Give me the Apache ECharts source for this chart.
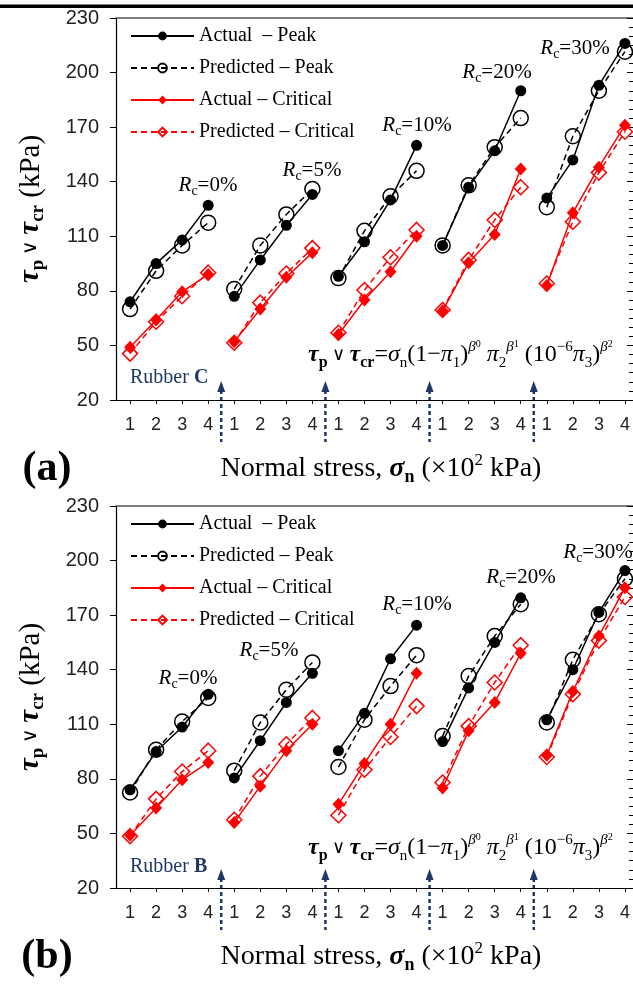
<!DOCTYPE html>
<html>
<head>
<meta charset="utf-8">
<script src="https://cdn.jsdelivr.net/npm/echarts@6/dist/echarts.min.js"></script>
<style>
  html, body { margin: 0; padding: 0; background: #fff; }
  #chart { width: 633px; height: 985px; }
</style>
</head>
<body>
<div id="chart"></div>
<script>
// Normal stress levels inside each rubber-content group (x10^2 kPa)
const stressLevels = ['1', '2', '3', '4'];
// Rubber content of each group
const rubberContents = ['0%', '5%', '10%', '20%', '30%'];
// Shear strength axis (kPa)
const yMin = 20, yMax = 230, yStep = 30;

// Rubber C — 5 groups x 4 stress levels (kPa)
const actualPeakC = [74, 95, 108, 127,  77, 97, 116, 133,  88, 107, 130, 160,  105, 137, 157, 190,  131, 152, 193, 216];
const predictedPeakC = [70, 91, 105, 117.5,  81, 105, 122, 136,  87, 113, 132, 146,  105, 138, 159, 175,  126, 165, 190, 211.5];
const actualCriticalC = [49, 64, 79.5, 89,  52, 70, 87.5, 101,  56, 75, 90.5, 110,  69, 95.5, 111, 147,  83, 123, 148, 171];
const predictedCriticalC = [45.5, 63, 77, 90,  51.5, 73.5, 89.5, 103.5,  57, 80.5, 98.5, 113.5,  69.5, 97, 119, 137,  84, 118, 145, 167.5];

// Rubber B — 5 groups x 4 stress levels (kPa)
const actualPeakB = [74, 95, 108.5, 126.5,  80.5, 101, 122, 138,  95.5, 116, 146, 164.5,  100.5, 130, 155, 179.5,  112.5, 140, 171.5, 194.5];
const predictedPeakB = [72.5, 96, 111.5, 124.5,  84.5, 111, 129, 144,  86.5, 112.5, 131, 148,  103.5, 136.5, 158.5, 176,  111, 145.5, 170.5, 190];
const actualCriticalB = [49, 64, 79.5, 89,  56, 76, 95.5, 110,  66, 88.5, 110, 138,  75, 106.5, 122, 149,  93, 128, 158.5, 185];
const predictedCriticalB = [48.5, 69, 84, 95.5,  57.5, 81.5, 99, 113.5,  60, 85, 103, 120,  78, 109, 133, 153.5,  92, 126.5, 156, 180];

const seriesNames = ['Actual  – Peak', 'Predicted – Peak', 'Actual – Critical', 'Predicted – Critical'];

const SERIF = '"Liberation Serif", "Times New Roman", serif';
const SANS = 'Arial, "Liberation Sans", sans-serif';
const NAVY = '#1f3864';
const RED = '#ff0000';

const panels = [
  { rubber: 'C', values: [actualPeakC, predictedPeakC, actualCriticalC, predictedCriticalC],
    top: 18, rcPos: [[208, 185], [312, 170], [417, 125], [497, 72], [575, 48]], formulaY: 355, rubberY: 378, letter: '(a)' },
  { rubber: 'B', values: [actualPeakB, predictedPeakB, actualCriticalB, predictedCriticalB],
    top: 506, rcPos: [[188, 678], [269, 650], [417, 604], [521, 577], [598, 552]], formulaY: 848, rubberY: 867, letter: '(b)' }
];
const plotH = 382;
const perGroup = stressLevels.length;
const nPoints = perGroup * rubberContents.length;
const positions = Array.from({ length: nPoints }, (_, i) => i + 1);

// one polyline per group: a gap point separates consecutive groups
function toPoints(values) {
  const pts = [];
  values.forEach((v, i) => {
    pts.push([i + 1, v]);
    if (i % perGroup === perGroup - 1 && i < values.length - 1) pts.push([i + 1.5, '-']);
  });
  return pts;
}

const markStyles = [
  { symbol: 'circle', symbolSize: 11, itemStyle: { color: '#000' },
    lineStyle: { color: '#000', width: 1.5, type: 'solid' } },
  { symbol: 'circle', symbolSize: 15, itemStyle: { color: 'rgba(255,255,255,0)', borderColor: '#000', borderWidth: 1.5 },
    lineStyle: { color: '#000', width: 1.5, type: [6, 4] } },
  { symbol: 'diamond', symbolSize: [12, 13], itemStyle: { color: RED },
    lineStyle: { color: RED, width: 1.5, type: 'solid' } },
  { symbol: 'diamond', symbolSize: 15, itemStyle: { color: 'rgba(255,255,255,0)', borderColor: RED, borderWidth: 1.5 },
    lineStyle: { color: RED, width: 1.5, type: [6, 4] } }
];

const grid = [], xAxis = [], yAxis = [], series = [], legend = [];
panels.forEach((p, g) => {
  grid.push({ left: 116, top: p.top, width: 517, height: plotH });
  xAxis.push({
    gridIndex: g, type: 'value', min: 0.46, max: 20.31,
    axisLine: { onZero: false, lineStyle: { color: '#000', width: 1.2 } },
    axisTick: { customValues: positions, length: 4, lineStyle: { color: '#000', width: 1 } },
    axisLabel: { customValues: positions, margin: 16, fontFamily: SANS, fontSize: 18, color: '#222',
      formatter: v => stressLevels[(Math.round(v) - 1) % perGroup] },
    splitLine: { show: false }
  });
  xAxis.push({
    gridIndex: g, type: 'value', position: 'top', min: 0.46, max: 20.31,
    axisLine: { onZero: false, lineStyle: { color: '#555', width: 1.5 } },
    axisTick: { show: false }, axisLabel: { show: false }, splitLine: { show: false }
  });
  yAxis.push({
    gridIndex: g, type: 'value', min: yMin, max: yMax, interval: yStep,
    axisLine: { show: true, onZero: false, lineStyle: { color: '#000', width: 1.2 } },
    axisTick: { show: true, length: 6, lineStyle: { color: '#000', width: 1 } },
    axisLabel: { margin: 17, fontFamily: SANS, fontSize: 20, color: '#222' },
    splitLine: { show: false }
  });
  yAxis.push({
    gridIndex: g, type: 'value', min: yMin, max: yMax, interval: yStep,
    axisLine: { show: false },
    axisTick: { show: true, inside: true, length: 6, lineStyle: { color: '#000', width: 1 } },
    minorTick: { show: true, splitNumber: 6, length: 4, lineStyle: { color: '#000', width: 1 } },
    axisLabel: { show: false }, splitLine: { show: false }
  });
  p.values.forEach((vals, k) => {
    series.push(Object.assign({
      type: 'line', name: seriesNames[k], xAxisIndex: 2 * g, yAxisIndex: 2 * g,
      data: toPoints(vals), connectNulls: false, showAllSymbol: true,
      emphasis: { disabled: true }, silent: true, z: 2 + k
    }, markStyles[k]));
  });
  legend.push({
    data: seriesNames, orient: 'vertical', left: 130, top: p.top + 8, padding: 0,
    itemWidth: 63, itemHeight: 11, itemGap: 12, selectedMode: false,
    textStyle: { fontFamily: SERIF, fontSize: 20, color: '#000' }
  });
});

const chart = echarts.init(document.getElementById('chart'), null, { renderer: 'canvas', width: 633, height: 985 });
chart.setOption({ animation: false, backgroundColor: '#fff', grid, xAxis, yAxis, series, legend });

// ---- annotations ----
const rcRich = {
  i: { fontFamily: SERIF, fontSize: 21, fontStyle: 'italic', fill: '#000', lineHeight: 26 },
  c: { fontFamily: SERIF, fontSize: 14, fill: '#000', verticalAlign: 'bottom', lineHeight: 16 },
  n: { fontFamily: SERIF, fontSize: 21, fill: '#000', lineHeight: 26 }
};
const formulaRich = {
  tb: { fontFamily: SERIF, fontSize: 24, fontStyle: 'italic', fontWeight: 'bold', fill: '#000', lineHeight: 31 },
  sb: { fontFamily: SERIF, fontSize: 16, fontWeight: 'bold', fill: '#000', verticalAlign: 'bottom', lineHeight: 19 },
  o: { fontFamily: SERIF, fontSize: 18, fill: '#000', lineHeight: 31 },
  n: { fontFamily: SERIF, fontSize: 24, fill: '#000', lineHeight: 31 },
  i: { fontFamily: SERIF, fontSize: 24, fontStyle: 'italic', fill: '#000', lineHeight: 31 },
  s: { fontFamily: SERIF, fontSize: 15, fill: '#000', verticalAlign: 'bottom', lineHeight: 18 },
  su: { fontFamily: SERIF, fontSize: 15, fontStyle: 'italic', fill: '#000', verticalAlign: 'top', lineHeight: 15 },
  ss: { fontFamily: SERIF, fontSize: 10, fill: '#000', verticalAlign: 'top', lineHeight: 26 },
  sup: { fontFamily: SERIF, fontSize: 15, fill: '#000', verticalAlign: 'top', lineHeight: 17 }
};
const formulaText = '{tb|τ}{sb|p}{o| ∨ }{tb|τ}{sb|cr}{n|=}{i|σ}{s|n}{n|(1−}{i|π}{s|1}{n|)}{su|β}{ss|0}{n| }{i|π}{s|2}{su|β}{ss|1}{n| (10}{sup|−6}{i|π}{s|3}{n|)}{su|β}{ss|2}';

const yTitleRich = {
  t: { fontFamily: SERIF, fontSize: 29, fontStyle: 'italic', fontWeight: 'bold', fill: '#000', lineHeight: 34 },
  s: { fontFamily: SERIF, fontSize: 19, fontWeight: 'bold', fill: '#000', verticalAlign: 'bottom', lineHeight: 20 },
  o: { fontFamily: SERIF, fontSize: 20, fill: '#000', lineHeight: 34 },
  u: { fontFamily: SERIF, fontSize: 29, fill: '#000', lineHeight: 34 }
};
const xTitleRich = {
  n: { fontFamily: SERIF, fontSize: 28, fill: '#000', lineHeight: 34 },
  b: { fontFamily: SERIF, fontSize: 28, fontStyle: 'italic', fontWeight: 'bold', fill: '#000', lineHeight: 34 },
  bs: { fontFamily: SERIF, fontSize: 18, fontWeight: 'bold', fill: '#000', verticalAlign: 'bottom', lineHeight: 20 },
  sup: { fontFamily: SERIF, fontSize: 17, fill: '#000', verticalAlign: 'top', lineHeight: 18 }
};

const graphic = [
  { type: 'rect', shape: { x: 0, y: 4.5, width: 633, height: 3.5 }, style: { fill: '#000' }, silent: true }
];

panels.forEach((p, g) => {
  const axisY = chart.convertToPixel({ yAxisIndex: 2 * g }, yMin);
  const midY = p.top + plotH / 2;
  // group separators: dashed arrows between stress level 4 and the next group's level 1
  for (let k = 1; k < rubberContents.length; k++) {
    const x = chart.convertToPixel({ xAxisIndex: 2 * g }, k * perGroup + 0.5);
    graphic.push({
      type: 'line', silent: true,
      shape: { x1: x, y1: axisY - 10, x2: x, y2: axisY + 42 },
      style: { stroke: NAVY, lineWidth: 2.5, lineDash: [4, 3] }
    });
    graphic.push({
      type: 'polygon', silent: true,
      shape: { points: [[x, axisY - 19], [x - 4, axisY - 8], [x + 4, axisY - 8]] },
      style: { fill: NAVY }
    });
  }
  // rubber content labels
  rubberContents.forEach((rc, k) => {
    graphic.push({
      type: 'text', silent: true, x: p.rcPos[k][0], y: p.rcPos[k][1],
      style: { text: '{i|R}{c|c}{n|=' + rc + '}', rich: rcRich, align: 'center', verticalAlign: 'middle',
        textAlign: 'center', textVerticalAlign: 'middle' }
    });
  });
  // strength model
  graphic.push({
    type: 'text', silent: true, x: 308, y: p.formulaY,
    style: { text: formulaText, rich: formulaRich, align: 'left', verticalAlign: 'middle',
      textAlign: 'left', textVerticalAlign: 'middle' }
  });
  // rubber type
  graphic.push({
    type: 'text', silent: true, x: 130, y: p.rubberY,
    style: { text: '{n|Rubber }{b|' + p.rubber + '}', align: 'left', verticalAlign: 'middle',
      textAlign: 'left', textVerticalAlign: 'middle',
      rich: {
        n: { fontFamily: SERIF, fontSize: 20, fill: NAVY },
        b: { fontFamily: SERIF, fontSize: 20, fontWeight: 'bold', fill: NAVY }
      } }
  });
  // y-axis title
  graphic.push({
    type: 'text', silent: true, x: 31, y: midY, rotation: Math.PI / 2,
    style: { text: '{t|τ}{s|p}{o| ∨ }{t|τ}{s|cr}{u| (kPa)}', rich: yTitleRich,
      align: 'center', verticalAlign: 'middle', textAlign: 'center', textVerticalAlign: 'middle' }
  });
  // x-axis title
  graphic.push({
    type: 'text', silent: true, x: 381, y: axisY + 69,
    style: { text: '{n|Normal stress, }{b|σ}{bs|n}{n| (×10}{sup|2}{n| kPa)}', rich: xTitleRich,
      align: 'center', verticalAlign: 'middle', textAlign: 'center', textVerticalAlign: 'middle' }
  });
  // panel letter
  graphic.push({
    type: 'text', silent: true, x: 47, y: axisY + 69,
    style: { text: p.letter, font: 'bold 42px ' + SERIF, fill: '#000',
      align: 'center', verticalAlign: 'middle', textAlign: 'center', textVerticalAlign: 'middle' }
  });
});

chart.setOption({ graphic });
</script>
</body>
</html>
